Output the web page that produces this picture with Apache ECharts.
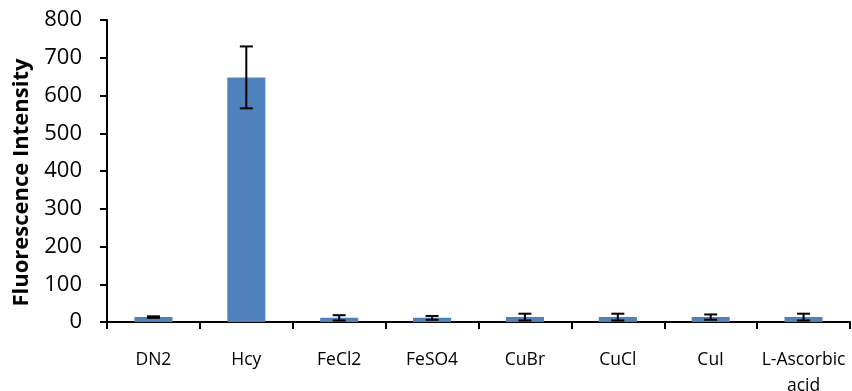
<!DOCTYPE html>
<html>
<head>
<meta charset="utf-8">
<script src="https://cdn.jsdelivr.net/npm/echarts@6/dist/echarts.min.js"></script>
<style>
  html, body { margin: 0; padding: 0; background: #fff; }
  #chart { width: 852px; height: 391px; }
</style>
</head>
<body>
<div id="chart"></div>
<script>
// Sample names along the x axis
const categories = ['DN2', 'Hcy', 'FeCl2', 'FeSO4', 'CuBr', 'CuCl', 'CuI', 'L-Ascorbic\nacid'];
// Mean fluorescence intensity per sample
const intensity = [13, 648, 11, 11, 13, 13, 13, 13];
// Standard deviation (symmetric error) per sample
const errors = [2, 82, 7, 5, 9, 9, 7, 9];
// Y axis range
const yMin = 0, yMax = 800, yStep = 100;

const errorData = categories.map((c, i) => [i, intensity[i] - errors[i], intensity[i] + errors[i]]);

const FONT = '"Open Sans", "Liberation Sans", sans-serif';

const chart = echarts.init(document.getElementById('chart'), null, { renderer: 'canvas' });
chart.setOption({
  animation: false,
  backgroundColor: '#ffffff',
  grid: { left: 107, right: 2, top: 20, bottom: 69, containLabel: false, outerBoundsMode: 'none' },
  xAxis: {
    type: 'category',
    data: categories,
    boundaryGap: true,
    axisLine: { lineStyle: { color: '#000', width: 2 } },
    axisTick: { show: true, length: 7, lineStyle: { color: '#000', width: 2 } },
    axisLabel: { color: '#000', fontFamily: FONT, fontSize: 17.5, margin: 25, lineHeight: 26, interval: 0 },
    splitLine: { show: false }
  },
  yAxis: {
    type: 'value',
    min: yMin, max: yMax, interval: yStep,
    name: 'Fluorescence Intensity',
    nameLocation: 'middle',
    nameGap: 74,
    nameTextStyle: { color: '#000', fontFamily: FONT, fontSize: 22, fontWeight: 'bold', padding: [0, 23, 0, 0] },
    axisLine: { show: true, lineStyle: { color: '#000', width: 2 } },
    axisTick: { show: true, length: 7, lineStyle: { color: '#000', width: 2 } },
    axisLabel: { color: '#000', fontFamily: FONT, fontSize: 22, margin: 25 },
    splitLine: { show: false }
  },
  series: [
    {
      type: 'bar',
      data: intensity,
      barWidth: '41%',
      itemStyle: { color: '#4F81BD' },
      z: 2
    },
    {
      type: 'custom',
      data: errorData,
      z: 5,
      renderItem: function (params, api) {
        const idx = api.value(0);
        const lo = api.coord([idx, api.value(1)]);
        const hi = api.coord([idx, api.value(2)]);
        const half = 6.5;
        const style = { stroke: '#000', lineWidth: 2 };
        return {
          type: 'group',
          children: [
            { type: 'line', shape: { x1: hi[0], y1: hi[1], x2: lo[0], y2: lo[1] }, style: style },
            { type: 'line', shape: { x1: hi[0] - half, y1: hi[1], x2: hi[0] + half, y2: hi[1] }, style: style },
            { type: 'line', shape: { x1: lo[0] - half, y1: lo[1], x2: lo[0] + half, y2: lo[1] }, style: style }
          ]
        };
      }
    }
  ]
});
</script>
</body>
</html>
